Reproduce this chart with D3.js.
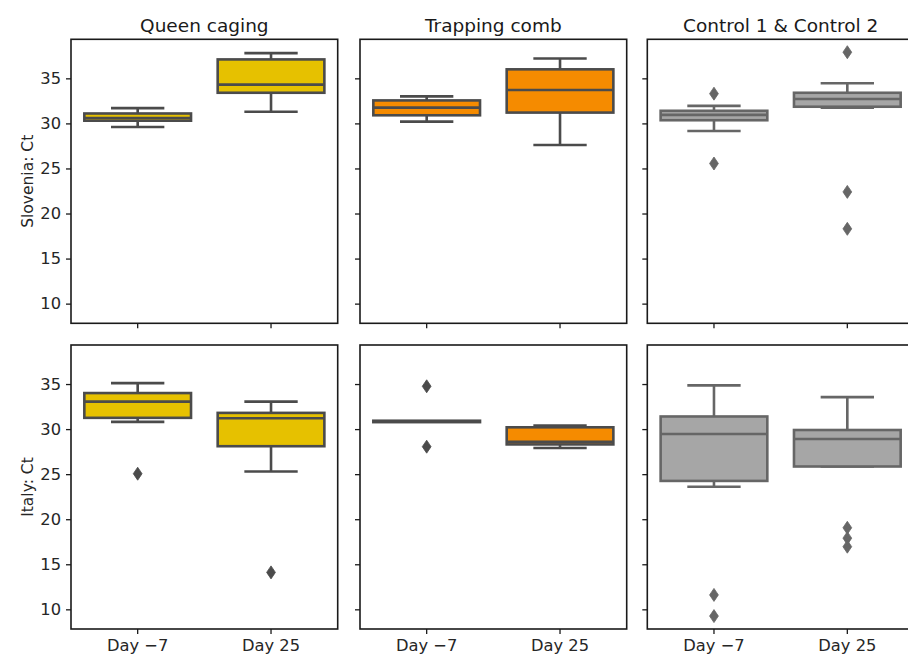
<!DOCTYPE html>
<html>
<head>
<meta charset="utf-8">
<script src="https://cdn.jsdelivr.net/npm/d3@7"></script>
<style>
  html, body { margin: 0; padding: 0; background: #fff; }
  svg { display: block; }
  text { font-family: "DejaVu Sans", Verdana, sans-serif; }
</style>
</head>
<body>
<svg id="chart" width="908" height="654"></svg>
<script>
// ---------- data ----------
const days = ["Day \u22127", "Day 25"];
const groups = ["Queen caging", "Trapping comb", "Control 1 & Control 2"];
const countries = ["Slovenia: Ct", "Italy: Ct"];
const groupColors = ["#e6c100", "#f58b00", "#a6a6a6"];
const lineColors = ["#4b4b4b", "#4b4b4b", "#666666"];
const yTicks = [10, 15, 20, 25, 30, 35];

// five-number summaries per day: [lower whisker, Q1, median, Q3, upper whisker]
const sloQueen = [[29.6, 30.3, 30.6, 31.1, 31.7], [31.3, 33.4, 34.3, 37.1, 37.8]];
const sloTrap  = [[30.2, 30.9, 31.75, 32.55, 33.0], [27.6, 31.2, 33.7, 36.0, 37.2]];
const sloCtrl  = [[29.15, 30.35, 30.95, 31.4, 31.95], [31.75, 31.85, 32.7, 33.4, 34.45]];
const itaQueen = [[30.8, 31.25, 33.05, 34.0, 35.1], [25.3, 28.1, 31.2, 31.8, 33.05]];
const itaTrap  = [[30.85, 30.85, 30.85, 30.85, 30.85], [27.9, 28.3, 28.6, 30.2, 30.4]];
const itaCtrl  = [[23.6, 24.25, 29.45, 31.4, 34.85], [25.85, 25.85, 28.9, 29.9, 33.55]];

// outliers per day
const sloQueenOut = [[], []];
const sloTrapOut  = [[], []];
const sloCtrlOut  = [[33.3, 25.55], [37.9, 22.4, 18.3]];
const itaQueenOut = [[25.05], [14.1]];
const itaTrapOut  = [[34.75, 28.05], []];
const itaCtrlOut  = [[11.6, 9.25], [19.05, 17.9, 16.95]];

const stats = [[sloQueen, sloTrap, sloCtrl], [itaQueen, itaTrap, itaCtrl]];
const outs  = [[sloQueenOut, sloTrapOut, sloCtrlOut], [itaQueenOut, itaTrapOut, itaCtrlOut]];

// ---------- layout ----------
const svg = d3.select("#chart");
const panelLeft = [71, 360, 647.3];
const panelW = 266.7;
const rowTop = [39.3, 345];
const panelH = 284;

// shared y domain (5% margins like matplotlib)
const allVals = [];
stats.flat().forEach(g => g.forEach(s => allVals.push(...s)));
outs.flat().forEach(g => g.forEach(o => allVals.push(...o)));
const vmin = d3.min(allVals), vmax = d3.max(allVals);
const pad = (vmax - vmin) * 0.05;
const yDomain = [vmin - pad, vmax + pad];

const fontTick = 16.3;
const ff = '"DejaVu Sans", Verdana, sans-serif';

for (let r = 0; r < 2; r++) {
  for (let c = 0; c < 3; c++) {
    const x0 = panelLeft[c], y0 = rowTop[r];
    const g = svg.append("g").attr("transform", `translate(${x0},${y0})`);
    const x = d3.scaleBand().domain(days).range([0, panelW]).paddingInner(0).paddingOuter(0);
    const y = d3.scaleLinear().domain(yDomain).range([panelH, 0]);
    const bw = x.bandwidth() * 0.8;
    const lc = lineColors[c];
    const fill = groupColors[c];

    days.forEach((d, i) => {
      const s = stats[r][c][i];
      const cx = x(d) + x.bandwidth() / 2;
      const [lo, q1, med, q3, hi] = s;
      const bg = g.append("g");
      bg.append("line").attr("x1", cx).attr("x2", cx).attr("y1", y(q1)).attr("y2", y(lo))
        .attr("stroke", lc).attr("stroke-width", 2.6);
      bg.append("line").attr("x1", cx).attr("x2", cx).attr("y1", y(q3)).attr("y2", y(hi))
        .attr("stroke", lc).attr("stroke-width", 2.6);
      [lo, hi].forEach(v => {
        bg.append("line").attr("x1", cx - bw / 4).attr("x2", cx + bw / 4)
          .attr("y1", y(v)).attr("y2", y(v))
          .attr("stroke", lc).attr("stroke-width", 2.6);
      });
      const h = y(q1) - y(q3);
      bg.append("rect").attr("x", cx - bw / 2).attr("width", bw)
        .attr("y", h < 1 ? y(q3) - 0.7 : y(q3)).attr("height", Math.max(1.4, h))
        .attr("fill", fill).attr("stroke", lc).attr("stroke-width", 2.6);
      bg.append("line").attr("x1", cx - bw / 2).attr("x2", cx + bw / 2)
        .attr("y1", y(med)).attr("y2", y(med))
        .attr("stroke", lc).attr("stroke-width", 2.6);
      const o = outs[r][c][i];
      bg.selectAll("path.out").data(o).enter().append("path")
        .attr("class", "out")
        .attr("d", v => {
          const py = y(v), hw = 4.4, hh = 6.5;
          return `M${cx},${py - hh}L${cx + hw},${py}L${cx},${py + hh}L${cx - hw},${py}Z`;
        })
        .attr("fill", lc).attr("stroke", lc).attr("stroke-width", 0.8);
    });

    // y axis
    const ya = d3.axisLeft(y).tickValues(yTicks).tickSize(5).tickPadding(5);
    if (c !== 0) ya.tickFormat("");
    const yg = g.append("g").call(ya);
    yg.select(".domain").remove();
    yg.selectAll(".tick line").attr("stroke", "#1a1a1a").attr("stroke-width", 1.3);
    yg.selectAll(".tick text").attr("font-size", fontTick).attr("fill", "#262626")
      .style("font-family", ff);

    // x axis
    const xa = d3.axisBottom(x).tickSize(5).tickPadding(5);
    if (r === 0) xa.tickFormat("");
    const xg = g.append("g").attr("transform", `translate(0,${panelH})`).call(xa);
    xg.select(".domain").remove();
    xg.selectAll(".tick line").attr("stroke", "#1a1a1a").attr("stroke-width", 1.3);
    xg.selectAll(".tick text").attr("font-size", fontTick).attr("fill", "#262626")
      .style("font-family", ff);

    // frame
    g.append("rect").attr("x", 0).attr("y", 0).attr("width", panelW).attr("height", panelH)
      .attr("fill", "none").attr("stroke", "#1a1a1a").attr("stroke-width", 1.6);

    if (r === 0) {
      g.append("text").attr("x", panelW / 2).attr("y", -7.6)
        .attr("text-anchor", "middle").attr("font-size", 18.5).attr("fill", "#1a1a1a")
        .text(groups[c]);
    }
    if (c === 0) {
      g.append("text")
        .attr("transform", `translate(${33 - x0},${panelH / 2}) rotate(-90)`)
        .attr("text-anchor", "middle").attr("font-size", 15.5).attr("fill", "#262626")
        .text(countries[r]);
    }
  }
}
</script>
</body>
</html>
